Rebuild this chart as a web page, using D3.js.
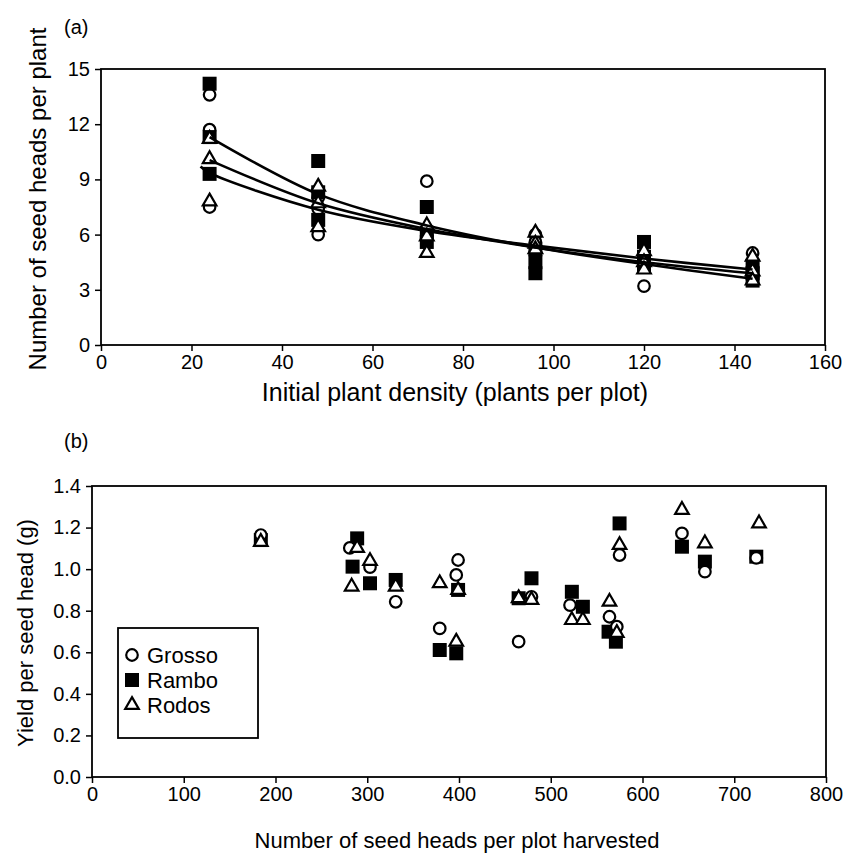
<!DOCTYPE html>
<html>
<head>
<meta charset="utf-8">
<script src="https://cdn.jsdelivr.net/npm/d3@7"></script>
<style>
  body { margin: 0; background: #fff; }
  svg { display: block; }
  text { font-family: "Liberation Sans", Arial, sans-serif; fill: #000; }
</style>
</head>
<body>
<svg width="854" height="854"></svg>
<script>
// ---- data ----
// panel (a): seed heads per plant, 3 plots per variety at each density
const densities = [24, 48, 72, 96, 120, 144]
const grossoHeads = [[13.6, 11.7, 7.5], [8.0, 7.4, 6.0], [8.9, 6.3, 6.0], [6.0, 5.6, 5.0], [4.6, 4.4, 3.2], [5.0, 4.2, 3.7]]
const ramboHeads  = [[14.2, 11.3, 9.3], [10.0, 8.3, 6.8], [7.5, 6.1, 5.6], [5.2, 4.5, 3.9], [5.6, 4.8, 4.3], [4.3, 3.9, 3.5]]
const rodosHeads  = [[11.2, 10.1, 7.8], [8.6, 7.7, 6.4], [6.5, 5.9, 5.0], [6.1, 5.5, 5.2], [5.1, 4.5, 4.1], [4.8, 4.0, 3.5]]

// fitted trend lines (values read at each density)
const fitUpper = [[24, 11.3], [48, 8.2], [72, 6.5], [96, 5.3], [120, 4.4], [144, 3.6]]
const fitMiddle = [[24, 10.05], [48, 7.7], [72, 6.3], [96, 5.3], [120, 4.5], [144, 3.9]]
const fitLower = [[22, 9.7], [24, 9.35], [48, 7.35], [72, 6.2], [96, 5.4], [120, 4.7], [144, 4.1]]

// panel (b): [seed heads harvested per plot, yield per seed head (g)]
const grossoYield = [[184, 1.164], [281, 1.102], [303, 1.010], [331, 0.843], [399, 1.044], [397, 0.972],
  [379, 0.715], [479, 0.867], [465, 0.651], [521, 0.827], [575, 1.068], [564, 0.771],
  [572, 0.723], [643, 1.172], [668, 0.988], [724, 1.054]]
const ramboYield = [[184, 1.140], [289, 1.148], [284, 1.012], [303, 0.932], [331, 0.948], [399, 0.900],
  [379, 0.611], [397, 0.595], [479, 0.956], [465, 0.860], [523, 0.891], [535, 0.819],
  [575, 1.220], [563, 0.699], [571, 0.651], [643, 1.108], [668, 1.036], [724, 1.060]]
const rodosYield = [[184, 1.131], [289, 1.102], [303, 1.039], [283, 0.916], [331, 0.916], [379, 0.932],
  [399, 0.900], [397, 0.651], [465, 0.860], [479, 0.852], [523, 0.755], [535, 0.755],
  [575, 1.116], [564, 0.843], [572, 0.693], [643, 1.285], [668, 1.124], [727, 1.220]]

const varieties = ['Grosso', 'Rambo', 'Rodos']
const ticksA_x = [0, 20, 40, 60, 80, 100, 120, 140, 160]
const ticksA_y = [0, 3, 6, 9, 12, 15]
const ticksB_x = [0, 100, 200, 300, 400, 500, 600, 700, 800]
const ticksB_y = [0, 0.2, 0.4, 0.6, 0.8, 1.0, 1.2, 1.4]

// ---- drawing ----
const svg = d3.select('svg')
const fontSize = 20

// marker shapes: open circle, filled square, open triangle
function marker(sel, kind) {
  if (kind === 'Grosso') {
    sel.append('path').attr('d', d3.symbol(d3.symbolCircle, 105)())
      .attr('fill', '#fff').attr('stroke', '#000').attr('stroke-width', 2.2)
  } else if (kind === 'Rambo') {
    sel.append('path').attr('d', d3.symbol(d3.symbolSquare, 196)())
      .attr('fill', '#000')
  } else {
    sel.append('path').attr('d', d3.symbol(d3.symbolTriangle, 80)())
      .attr('fill', '#fff').attr('stroke', '#000').attr('stroke-width', 2.2)
  }
}

function drawAxes(g, x, y, xt, yt, yfmt) {
  let xr = x.range(), yr = y.range()
  g.append('g')
    .attr('transform', 'translate(0,' + yr[0] + ')')
    .call(d3.axisBottom(x).tickValues(xt).tickSize(6).tickSizeOuter(0).tickPadding(4))
  g.append('g')
    .attr('transform', 'translate(' + xr[0] + ',0)')
    .call(d3.axisLeft(y).tickValues(yt).tickFormat(yfmt).tickSize(6).tickSizeOuter(0).tickPadding(5))
  g.selectAll('.domain').remove()
  g.selectAll('.tick line').attr('stroke', '#000').attr('stroke-width', 1.5)
  g.selectAll('.tick text').attr('font-size', fontSize)
    .style('font-family', '"Liberation Sans", Arial, sans-serif').attr('fill', '#000')
  // plot frame
  g.append('rect')
    .attr('x', xr[0]).attr('y', yr[1])
    .attr('width', xr[1] - xr[0]).attr('height', yr[0] - yr[1])
    .attr('fill', 'none').attr('stroke', '#000').attr('stroke-width', 1.8)
}

// panel (a)
const xA = d3.scaleLinear().domain([0, 160]).range([101, 825])
const yA = d3.scaleLinear().domain([0, 15]).range([345, 69])
const gA = svg.append('g')
drawAxes(gA, xA, yA, ticksA_x, ticksA_y, d3.format('d'))

const headsByVariety = { Grosso: grossoHeads, Rambo: ramboHeads, Rodos: rodosHeads }
const line = d3.line().x(d => xA(d[0])).y(d => yA(d[1])).curve(d3.curveCatmullRom.alpha(0.5))

// draw markers first, lines on top
varieties.forEach(v => {
  headsByVariety[v].forEach((vals, i) => {
    vals.forEach(val => {
      let m = gA.append('g').attr('transform', 'translate(' + xA(densities[i]) + ',' + yA(val) + ')')
      marker(m, v)
    })
  })
})
;[fitUpper, fitMiddle, fitLower].forEach(f => {
  gA.append('path').datum(f).attr('d', line)
    .attr('fill', 'none').attr('stroke', '#000').attr('stroke-width', 2.6)
})

svg.append('text').attr('x', 64).attr('y', 34).attr('font-size', fontSize).text('(a)')
svg.append('text').attr('transform', 'translate(46,199) rotate(-90)')
  .attr('text-anchor', 'middle').attr('font-size', 24).text('Number of seed heads per plant')
svg.append('text').attr('x', 455).attr('y', 401)
  .attr('text-anchor', 'middle').attr('font-size', 25).text('Initial plant density (plants per plot)')

// panel (b)
const xB = d3.scaleLinear().domain([0, 800]).range([92, 826])
const yB = d3.scaleLinear().domain([0, 1.4]).range([777, 486])
const gB = svg.append('g')
drawAxes(gB, xB, yB, ticksB_x, ticksB_y, d3.format('.1f'))

const yieldByVariety = { Grosso: grossoYield, Rambo: ramboYield, Rodos: rodosYield }
;['Rambo', 'Grosso', 'Rodos'].forEach(v => {
  yieldByVariety[v].forEach(d => {
    let m = gB.append('g').attr('transform', 'translate(' + xB(d[0]) + ',' + yB(d[1]) + ')')
    marker(m, v)
  })
})

svg.append('text').attr('x', 64).attr('y', 448).attr('font-size', fontSize).text('(b)')
svg.append('text').attr('transform', 'translate(33,633) rotate(-90)')
  .attr('text-anchor', 'middle').attr('font-size', 22).text('Yield per seed head (g)')
svg.append('text').attr('x', 457).attr('y', 848)
  .attr('text-anchor', 'middle').attr('font-size', 22).text('Number of seed heads per plot harvested')

// legend
const legend = svg.append('g')
legend.append('rect').attr('x', 118).attr('y', 628).attr('width', 140).attr('height', 110)
  .attr('fill', '#fff').attr('stroke', '#000').attr('stroke-width', 1.8)
varieties.forEach((v, i) => {
  let row = legend.append('g').attr('transform', 'translate(132,' + (655 + i * 25) + ')')
  marker(row, v)
  row.append('text').attr('x', 15).attr('y', 8).attr('font-size', 22).text(v)
})
</script>
</body>
</html>
